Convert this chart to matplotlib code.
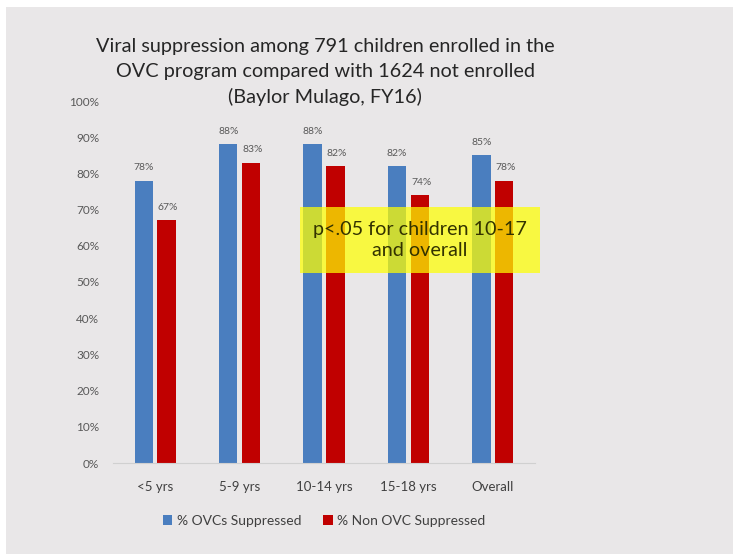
import matplotlib.pyplot as plt
from matplotlib.patches import Rectangle
import numpy as np

categories = ['<5 yrs', '5-9 yrs', '10-14 yrs', '15-18 yrs', 'Overall']
ovc = [78, 88, 88, 82, 85]
non_ovc = [67, 83, 82, 74, 78]
series_names = ['% OVCs Suppressed', '% Non OVC Suppressed']

plt.rcParams['font.family'] = ['Lato', 'DejaVu Sans']

W, H = 733, 554
fig = plt.figure(figsize=(W / 100, H / 100), dpi=100)
fig.patch.set_facecolor('white')
fig.patches.append(Rectangle((6 / W, 0), 1, 1 - 7 / H, transform=fig.transFigure,
                             facecolor='#e9e7e8', edgecolor='none', zorder=-1))

ax = fig.add_axes([113 / W, 1 - 463 / H, (535 - 113) / W, (463 - 101) / H])
ax.set_facecolor('none')

x = np.arange(len(categories))
w = 0.22
off = 0.135
blue = '#4a7ebf'
red = '#c00000'
ax.bar(x - off, ovc, w, color=blue, label=series_names[0], zorder=2)
ax.bar(x + off, non_ovc, w, color=red, label=series_names[1], zorder=2)

for i in range(len(categories)):
    ax.annotate(f'{ovc[i]}%', (x[i] - off, ovc[i]), xytext=(0, 6), textcoords='offset points',
                ha='center', va='bottom', fontsize=7.5, color='#595959')
    ax.annotate(f'{non_ovc[i]}%', (x[i] + off, non_ovc[i]), xytext=(1, 6), textcoords='offset points',
                ha='center', va='bottom', fontsize=7.5, color='#595959')

ax.set_xlim(-0.5, len(categories) - 0.5)
ax.set_ylim(0, 100)
ax.set_yticks(range(0, 101, 10))
ax.set_yticklabels([f'{v}%' for v in range(0, 101, 10)], fontsize=8.5, color='#595959')
ax.set_xticks(x)
ax.set_xticklabels(categories, fontsize=9.5, color='#404040')
ax.tick_params(length=0)
ax.tick_params(axis='x', pad=13)
ax.tick_params(axis='y', pad=10)
for s in ['top', 'right', 'left']:
    ax.spines[s].set_visible(False)
ax.spines['bottom'].set_color('#d0d0d0')

fig.text(325 / W, 1 - 72 / H,
         'Viral suppression among 791 children enrolled in the\nOVC program compared with 1624 not enrolled\n(Baylor Mulago, FY16)',
         ha='center', va='center', fontsize=14.3, color='#262626', linespacing=1.55)

# highlighted note box
fig.patches.append(Rectangle((300 / W, 1 - 273 / H), 240 / W, 66 / H, transform=fig.transFigure,
                             facecolor='#ffff00', alpha=0.72, edgecolor='none', zorder=5))
fig.text(420 / W, 1 - 240 / H, 'p<.05 for children 10-17\nand overall', ha='center', va='center',
         fontsize=14.2, color='#333300', linespacing=1.35, zorder=6)

ax.legend(loc='center', bbox_to_anchor=(0.5, -0.16), ncol=2, frameon=False, fontsize=10,
          handlelength=0.7, handleheight=0.7, handletextpad=0.3, columnspacing=1.6,
          labelcolor='#404040')

fig.savefig('out.png', dpi=100)
